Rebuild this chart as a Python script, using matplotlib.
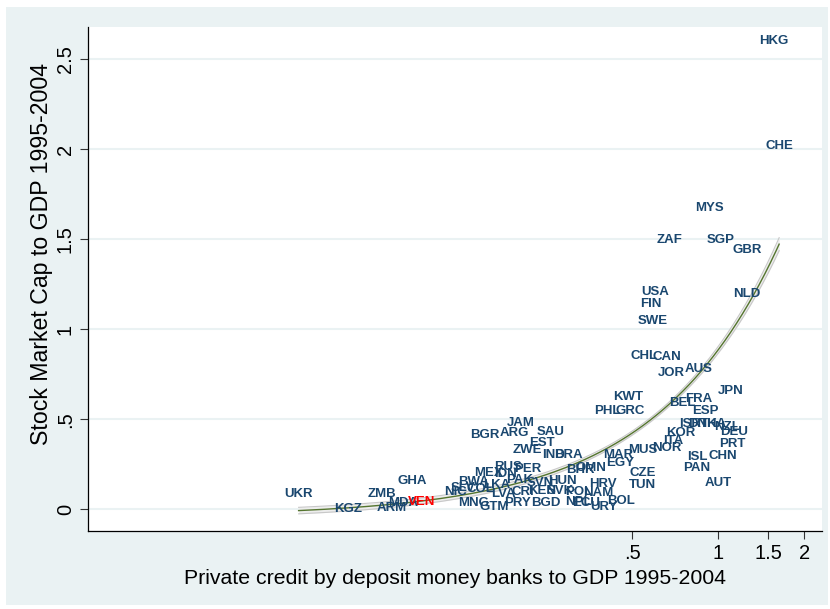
import numpy as np
import matplotlib.pyplot as plt
from matplotlib.patches import Rectangle

plt.rcParams['font.family'] = ['Liberation Sans', 'DejaVu Sans']

# country codes with private credit / GDP and stock market cap / GDP, 1995-2004 averages
countries = ['HKG', 'CHE', 'MYS', 'ZAF', 'SGP', 'GBR', 'USA', 'FIN', 'SWE', 'NLD',
             'CHL', 'CAN', 'JOR', 'AUS', 'JPN', 'KWT', 'PHL', 'GRC', 'BEL', 'FRA',
             'ESP', 'ISR', 'DNK', 'THA', 'NZL', 'KOR', 'DEU', 'ITA', 'PRT', 'NOR',
             'MUS', 'MAR', 'EGY', 'ISL', 'CHN', 'PAN', 'CZE', 'TUN', 'AUT', 'BOL',
             'URY', 'HRV', 'OMN', 'BHR', 'NAM', 'UKR', 'KGZ', 'ZMB', 'ARM', 'MDA',
             'GHA', 'VEN', 'NIC', 'BWA', 'MEX', 'RUS', 'PER', 'ZWE', 'EST', 'IND',
             'BRA', 'SAU', 'JAM', 'ARG', 'BGR', 'MNG', 'GTM', 'PRY', 'BGD', 'LVA',
             'CRI', 'KEN', 'SVK', 'POL', 'NPL', 'ECU', 'HUN', 'SVN', 'IDN', 'COL',
             'PAK', 'SLV', 'LKA']
credit = [1.570, 1.635, 0.930, 0.674, 1.024, 1.263, 0.602, 0.583, 0.592, 1.263,
          0.551, 0.663, 0.685, 0.851, 1.102, 0.484, 0.409, 0.492, 0.748, 0.858,
          0.901, 0.798, 0.879, 0.961, 1.075, 0.742, 1.138, 0.696, 1.119, 0.663,
          0.542, 0.447, 0.454, 0.844, 1.041, 0.838, 0.542, 0.542, 1.000, 0.458,
          0.399, 0.396, 0.359, 0.329, 0.380, 0.0339, 0.0507, 0.0662, 0.0717, 0.0790,
          0.0849, 0.0913, 0.120, 0.139, 0.157, 0.184, 0.216, 0.215, 0.242, 0.265,
          0.299, 0.258, 0.203, 0.193, 0.152, 0.139, 0.164, 0.198, 0.248, 0.177,
          0.206, 0.242, 0.280, 0.324, 0.324, 0.345, 0.285, 0.238, 0.180, 0.147,
          0.201, 0.128, 0.168]
mktcap = [2.600, 2.017, 1.672, 1.494, 1.494, 1.439, 1.206, 1.139, 1.044, 1.194,
          0.850, 0.844, 0.756, 0.778, 0.656, 0.622, 0.544, 0.544, 0.589, 0.611,
          0.544, 0.472, 0.472, 0.472, 0.456, 0.422, 0.428, 0.378, 0.361, 0.339,
          0.328, 0.300, 0.256, 0.289, 0.294, 0.228, 0.200, 0.133, 0.144, 0.044,
          0.011, 0.139, 0.228, 0.217, 0.089, 0.083, 0.000, 0.083, 0.006, 0.033,
          0.156, 0.039, 0.094, 0.150, 0.200, 0.233, 0.222, 0.328, 0.367, 0.300,
          0.300, 0.428, 0.478, 0.422, 0.411, 0.033, 0.011, 0.033, 0.033, 0.083,
          0.094, 0.100, 0.100, 0.094, 0.039, 0.033, 0.156, 0.144, 0.194, 0.111,
          0.161, 0.117, 0.133]
highlight = 'VEN'

x_ticks = [0.5, 1, 1.5, 2]
x_ticklabels = ['.5', '1', '1.5', '2']
y_ticks = [0, 0.5, 1, 1.5, 2, 2.5]
y_ticklabels = ['0', '.5', '1', '1.5', '2', '2.5']

navy = '#1A476F'
bg = '#EAF2F3'

x = np.array(credit)
y = np.array(mktcap)

# linear fit, with a narrow band from the standard error of the fitted mean
b, a = np.polyfit(x, y, 1)
xs = np.linspace(x.min(), x.max(), 200)
ys = a + b * xs
n = len(x)
resid = y - (a + b * x)
s = np.sqrt(np.sum(resid ** 2) / (n - 2))
se = s * np.sqrt(1 / n + (xs - x.mean()) ** 2 / np.sum((x - x.mean()) ** 2))
z_band = 0.3
lo = ys - z_band * se
hi = ys + z_band * se

fig = plt.figure(figsize=(8.3, 6.09), dpi=100)
fig.patch.set_facecolor('white')
fig.patches.append(Rectangle((6 / 830, 4 / 609), 822 / 830, 598 / 609,
                             transform=fig.transFigure, facecolor=bg,
                             edgecolor='none', zorder=-10))
ax = fig.add_axes([88 / 830, 1 - 531 / 609, 734 / 830, 504 / 609])
ax.set_facecolor('white')

ax.fill_between(xs, lo, hi, color='#EDEDED', lw=0, zorder=2)
ax.plot(xs, lo, color='#C8C8C8', lw=0.8, zorder=2)
ax.plot(xs, hi, color='#C8C8C8', lw=0.8, zorder=2)
ax.plot(xs, ys, color='#55752F', lw=1.0, zorder=3)

for c, xi, yi in zip(countries, credit, mktcap):
    ax.text(xi, yi, c, ha='center', va='center', fontsize=9.5, fontweight='bold',
            color='red' if c == highlight else navy, zorder=4)

ax.set_xscale('log')
ax.set_xlim(0.0062, 2.31)
ax.set_ylim(-0.12, 2.68)
ax.set_xticks(x_ticks)
ax.set_xticklabels(x_ticklabels)
ax.xaxis.set_minor_locator(plt.NullLocator())
ax.set_yticks(y_ticks)
ax.set_yticklabels(y_ticklabels, rotation=90, va='center')
ax.yaxis.grid(True, color=bg, lw=1.5)
ax.set_axisbelow(True)
ax.tick_params(labelsize=14.5, length=6, width=0.8, color='#333333')

for side in ['top', 'right']:
    ax.spines[side].set_visible(False)
for side in ['left', 'bottom']:
    ax.spines[side].set_linewidth(0.9)

ax.set_xlabel('Private credit by deposit money banks to GDP 1995-2004', fontsize=15.3, labelpad=4)
ax.set_ylabel('Stock Market Cap to GDP 1995-2004', fontsize=16.7, va='center')
ax.yaxis.set_label_coords(-0.064, 0.549)

fig.savefig('out.png', dpi=100, facecolor=fig.get_facecolor())
